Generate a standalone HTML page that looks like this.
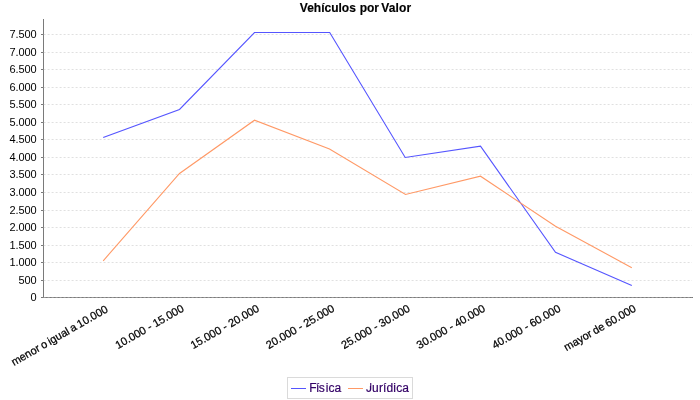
<!DOCTYPE html>
<html><head><meta charset="utf-8"><title>Vehículos por Valor</title>
<style>
html,body{margin:0;padding:0;background:#fff;}
body{width:700px;height:400px;overflow:hidden;font-family:"Liberation Sans",sans-serif;}
svg{display:block;opacity:0.999;will-change:transform;}
text{font-family:"Liberation Sans",sans-serif;}
</style></head><body>
<svg width="700" height="400" viewBox="0 0 700 400">
<rect x="0" y="0" width="700" height="400" fill="#ffffff"/>
<text x="355.5" y="12" text-anchor="middle" font-size="12" font-weight="bold" fill="#000" stroke="#000" stroke-width="0.15">Vehículos <tspan dx="0.5">por</tspan> <tspan dx="-1.1" letter-spacing="0.12">Valor</tspan></text>

<g stroke="#7a7a7a" stroke-width="1" shape-rendering="crispEdges">
<line x1="43.5" y1="19" x2="43.5" y2="298"/>
<line x1="43" y1="297.5" x2="693" y2="297.5"/>
<line x1="41" y1="297.5" x2="43" y2="297.5"/>
<line x1="41" y1="280.5" x2="43" y2="280.5"/>
<line x1="41" y1="262.5" x2="43" y2="262.5"/>
<line x1="41" y1="245.5" x2="43" y2="245.5"/>
<line x1="41" y1="227.5" x2="43" y2="227.5"/>
<line x1="41" y1="210.5" x2="43" y2="210.5"/>
<line x1="41" y1="192.5" x2="43" y2="192.5"/>
<line x1="41" y1="174.5" x2="43" y2="174.5"/>
<line x1="41" y1="157.5" x2="43" y2="157.5"/>
<line x1="41" y1="139.5" x2="43" y2="139.5"/>
<line x1="41" y1="122.5" x2="43" y2="122.5"/>
<line x1="41" y1="104.5" x2="43" y2="104.5"/>
<line x1="41" y1="87.5" x2="43" y2="87.5"/>
<line x1="41" y1="69.5" x2="43" y2="69.5"/>
<line x1="41" y1="52.5" x2="43" y2="52.5"/>
<line x1="41" y1="34.5" x2="43" y2="34.5"/>
</g>
<g stroke="#c0c0c0" stroke-width="0.5" stroke-dasharray="2,2">
<line x1="43.6" y1="297.5" x2="692" y2="297.5"/>
<line x1="43.6" y1="280.5" x2="692" y2="280.5"/>
<line x1="43.6" y1="262.5" x2="692" y2="262.5"/>
<line x1="43.6" y1="245.5" x2="692" y2="245.5"/>
<line x1="43.6" y1="227.5" x2="692" y2="227.5"/>
<line x1="43.6" y1="210.5" x2="692" y2="210.5"/>
<line x1="43.6" y1="192.5" x2="692" y2="192.5"/>
<line x1="43.6" y1="174.5" x2="692" y2="174.5"/>
<line x1="43.6" y1="157.5" x2="692" y2="157.5"/>
<line x1="43.6" y1="139.5" x2="692" y2="139.5"/>
<line x1="43.6" y1="122.5" x2="692" y2="122.5"/>
<line x1="43.6" y1="104.5" x2="692" y2="104.5"/>
<line x1="43.6" y1="87.5" x2="692" y2="87.5"/>
<line x1="43.6" y1="69.5" x2="692" y2="69.5"/>
<line x1="43.6" y1="52.5" x2="692" y2="52.5"/>
<line x1="43.6" y1="34.5" x2="692" y2="34.5"/>
</g>
<g font-size="11" fill="#000" text-anchor="end" letter-spacing="-0.12">
<text x="36.5" y="301.1">0</text>
<text x="36.5" y="284.1">500</text>
<text x="36.5" y="266.1">1.000</text>
<text x="36.5" y="249.1">1.500</text>
<text x="36.5" y="231.1">2.000</text>
<text x="36.5" y="214.1">2.500</text>
<text x="36.5" y="196.1">3.000</text>
<text x="36.5" y="178.1">3.500</text>
<text x="36.5" y="161.1">4.000</text>
<text x="36.5" y="143.1">4.500</text>
<text x="36.5" y="126.1">5.000</text>
<text x="36.5" y="108.1">5.500</text>
<text x="36.5" y="91.1">6.000</text>
<text x="36.5" y="73.1">6.500</text>
<text x="36.5" y="56.1">7.000</text>
<text x="36.5" y="38.1">7.500</text>
</g>
<polyline fill="none" stroke="#5555ff" stroke-width="1.1" points="103.2,137.5 179.5,109.5 254.5,32.5 329.7,32.5 405.2,157.5 480.5,146.2 555.5,252.3 631.8,285.5"/>
<polyline fill="none" stroke="#ff9966" stroke-width="1.1" points="103.2,260.8 179.5,173.5 254.5,120.2 329.5,149.0 405.5,194.5 480.5,176.2 555.5,226.3 631.8,267.7"/>
<g font-size="11" fill="#000" text-anchor="end" stroke="#000" stroke-width="0.25">
<text transform="translate(103.80,302.75) rotate(-30)" x="0" y="9.9"><tspan word-spacing="-0.75">menor o igual a </tspan>10.000</text>
<text transform="translate(179.75,302.05) rotate(-30)" x="0" y="9.9">10.000 - 15.000</text>
<text transform="translate(255.10,302.05) rotate(-30)" x="0" y="9.9">15.000 - 20.000</text>
<text transform="translate(330.45,302.05) rotate(-30)" x="0" y="9.9">20.000 - 25.000</text>
<text transform="translate(405.80,302.05) rotate(-30)" x="0" y="9.9">25.000 - 30.000</text>
<text transform="translate(481.15,302.05) rotate(-30)" x="0" y="9.9">30.000 - 40.000</text>
<text transform="translate(556.50,302.05) rotate(-30)" x="0" y="9.9">40.000 - 60.000</text>
<text transform="translate(631.85,302.05) rotate(-30)" x="0" y="9.9"><tspan word-spacing="-0.7">mayor de </tspan>60.000</text>
</g>
<rect x="287.5" y="377.5" width="125" height="21" fill="#fff" stroke="#dadada" stroke-width="1" shape-rendering="crispEdges"/>
<line x1="291" y1="388.5" x2="306" y2="388.5" stroke="#5555ff" stroke-width="1" shape-rendering="crispEdges"/>
<text x="309.3 316.0 318.8 325.66 328.45 334.57" y="391.8" font-size="12" fill="#330066" stroke="#330066" stroke-width="0.2">Física</text>
<line x1="348" y1="388.5" x2="363" y2="388.5" stroke="#ff9966" stroke-width="1" shape-rendering="crispEdges"/>
<text x="365.9" y="391.8" font-size="12" fill="#330066" stroke="#330066" stroke-width="0.2" letter-spacing="0.16">Jurídica</text>
<rect x="366.8" y="381.5" width="3.4" height="4.5" fill="#fff"/>
</svg></body></html>
